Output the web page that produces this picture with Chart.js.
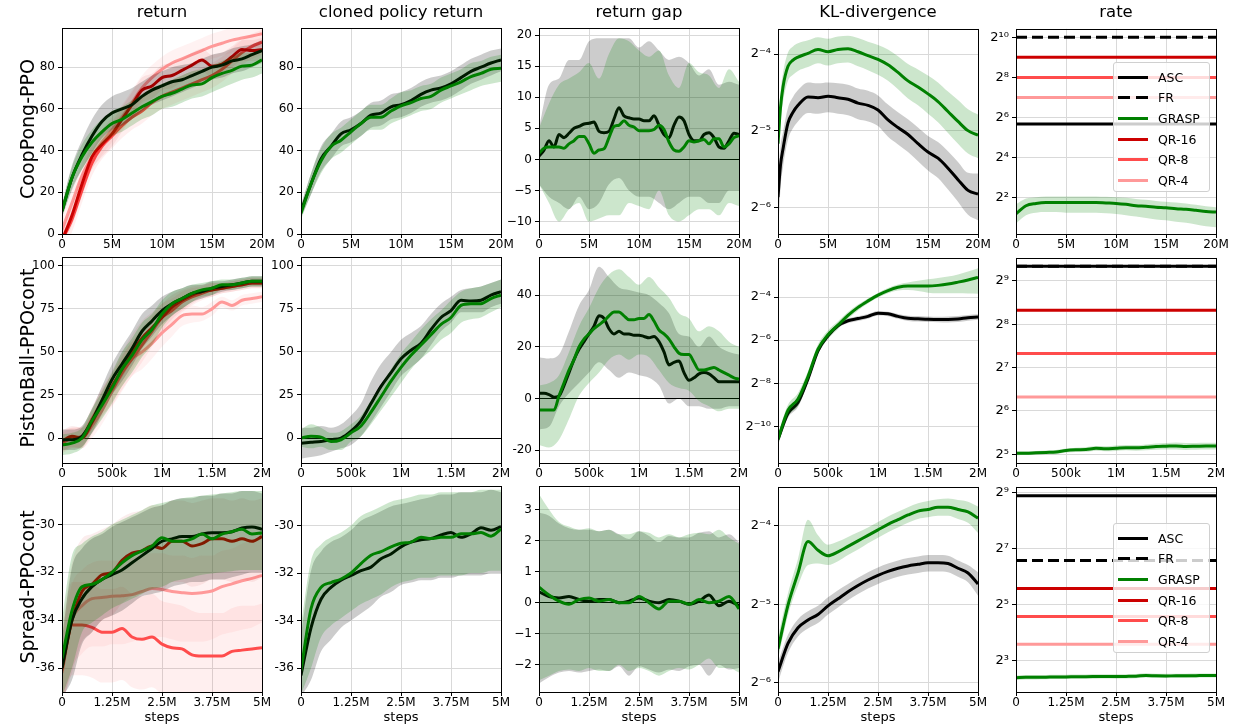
<!DOCTYPE html>
<html>
<head>
<meta charset="utf-8">
<script src="https://cdn.jsdelivr.net/npm/chart.js@4.4.0/dist/chart.umd.min.js"></script>
<style>
body { margin: 0; background: #fff; font-family: 'DejaVu Sans', sans-serif; }
#page { position: relative; width: 1239px; height: 728px; overflow: hidden; }
canvas { position: absolute; }
.title { position: absolute; top: 2px; font-size: 16.5px; transform: translateX(-50%); white-space: nowrap; }
.rowlab { position: absolute; font-size: 19px; transform: translate(-50%, -50%) rotate(-90deg); white-space: nowrap; }
.xlab { position: absolute; top: 709px; font-size: 13px; transform: translateX(-50%); }
.legend { position: absolute; width: 97px; background: rgba(255,255,255,0.8); border: 1px solid #d0d0d0; border-radius: 3px; box-sizing: border-box; padding: 4px 0 0 4px; font-size: 12.5px; }
.legend div { height: 20.6px; display: flex; align-items: center; }
.legend .sw { width: 30px; height: 3px; margin-right: 10px; }
</style>
</head>
<body>
<div id="page"></div>
<script>
// x positions (steps)
const stepsA = [0, 1e6, 2e6, 3e6, 4e6, 5e6, 6e6, 7e6, 8e6, 9e6, 10e6, 11e6, 12e6, 13e6, 14e6, 15e6, 16e6, 17e6, 18e6, 19e6, 20e6];
const stepsAhalf = [0, 0.5e6, 1e6, 1.5e6, 2e6, 2.5e6, 3e6, 3.5e6, 4e6, 4.5e6, 5e6, 5.5e6, 6e6, 6.5e6, 7e6, 7.5e6, 8e6, 8.5e6, 9e6, 9.5e6, 10e6,
  10.5e6, 11e6, 11.5e6, 12e6, 12.5e6, 13e6, 13.5e6, 14e6, 14.5e6, 15e6, 15.5e6, 16e6, 16.5e6, 17e6, 17.5e6, 18e6, 18.5e6, 19e6, 19.5e6, 20e6];
const stepsAkl = [0, 0.25e6, 0.5e6, 1e6, 1.5e6, 2e6, 3e6, 4e6, 5e6, 6e6, 7e6, 8e6, 9e6, 10e6, 11e6, 12e6, 13e6, 14e6, 15e6, 16e6, 17e6, 18e6, 19e6, 20e6];
const stepsB = [0, 1e5, 2e5, 3e5, 4e5, 5e5, 6e5, 7e5, 8e5, 9e5, 1e6, 1.1e6, 1.2e6, 1.3e6, 1.4e6, 1.5e6, 1.6e6, 1.7e6, 1.8e6, 1.9e6, 2e6];
const stepsBhalf = [0, 5e4, 1e5, 1.5e5, 2e5, 2.5e5, 3e5, 3.5e5, 4e5, 4.5e5, 5e5, 5.5e5, 6e5, 6.5e5, 7e5, 7.5e5, 8e5, 8.5e5, 9e5, 9.5e5, 1e6,
  1.05e6, 1.1e6, 1.15e6, 1.2e6, 1.25e6, 1.3e6, 1.35e6, 1.4e6, 1.45e6, 1.5e6, 1.55e6, 1.6e6, 1.65e6, 1.7e6, 1.75e6, 1.8e6, 1.85e6, 1.9e6, 1.95e6, 2e6];
const stepsC = [0, 2.5e5, 5e5, 7.5e5, 1e6, 1.25e6, 1.5e6, 1.75e6, 2e6, 2.25e6, 2.5e6, 2.75e6, 3e6, 3.25e6, 3.5e6, 3.75e6, 4e6, 4.25e6, 4.5e6, 4.75e6, 5e6];
const spanA = [0, 20e6], spanB = [0, 2e6], spanC = [0, 5e6];

// tick labels
const xTicksA = [0, 5e6, 10e6, 15e6, 20e6], xLabelsA = ['0', '5M', '10M', '15M', '20M'];
const xTicksB = [0, 5e5, 1e6, 1.5e6, 2e6], xLabelsB = ['0', '500k', '1M', '1.5M', '2M'];
const xTicksC = [0, 1.25e6, 2.5e6, 3.75e6, 5e6], xLabelsC = ['0', '1.25M', '2.5M', '3.75M', '5M'];

// ---- CoopPong-PPO ----
const coopRetAsc   = [11, 27, 38, 47, 54, 58, 60, 62, 66, 69, 71, 73, 74, 76, 78, 80, 81, 83, 84, 86, 88];
const coopRetAscLo = [8, 21, 31, 39, 46, 50, 52, 55, 59, 62, 64, 66, 68, 70, 72, 74, 75, 77, 78, 80, 82];
const coopRetAscHi = [14, 33, 45, 55, 62, 66, 68, 70, 73, 76, 78, 80, 81, 82, 84, 86, 87, 89, 90, 91, 93];
const coopRetGrasp   = [11, 27, 37, 44, 49, 53, 55, 58, 61, 63.5, 66, 67.5, 69.5, 71.5, 72, 75, 77, 78.5, 80.5, 81, 83.5];
const coopRetGraspLo = [8, 22, 31, 38, 43, 47, 49, 52, 55, 57, 60, 61, 63, 65, 66, 68, 70, 72, 74, 75, 77];
const coopRetGraspHi = [14, 32, 43, 50, 55, 59, 61, 64, 67, 70, 72, 74, 76, 78, 79, 81, 83, 85, 87, 87, 89];
const coopRetQr16   = [-3, 9, 24, 37, 43, 48, 55, 62, 69, 71, 75, 76, 78.5, 81, 83.5, 80.5, 81.5, 85, 88.5, 88, 88.5];
const coopRetQr16Lo = [-6, 4, 18, 31, 37, 42, 49, 56, 63, 65, 69, 70, 73, 75, 78, 75, 76, 80, 83, 83, 83];
const coopRetQr16Hi = [0, 14, 30, 43, 49, 54, 61, 68, 75, 77, 81, 82, 84, 87, 89, 86, 87, 90, 93, 93, 94];
const coopRetQr8   = [-3, 7, 21, 34, 42, 47, 52, 56, 59, 63, 66, 68, 70, 72, 74, 76, 79, 83, 87, 90, 92];
const coopRetQr8Lo = [-9, 1, 15, 28, 36, 41, 46, 50, 53, 57, 60, 62, 64, 66, 68, 70, 73, 77, 81, 84, 86];
const coopRetQr8Hi = [3, 13, 27, 40, 48, 53, 58, 62, 65, 69, 72, 74, 76, 78, 80, 82, 85, 89, 93, 96, 98];
const coopRetQr4   = [2, 15, 28, 37, 44, 50, 56, 63, 70, 75, 79, 82, 84, 86, 88, 90, 91.5, 93, 94, 95, 96];
const coopRetQr4Lo = [-4, 9, 22, 31, 38, 44, 50, 57, 64, 69, 73, 76, 78, 80, 82, 84, 85.5, 87, 88, 89, 90];
const coopRetQr4Hi = [8, 21, 34, 43, 50, 56, 62, 69, 76, 81, 85, 88, 90, 92, 94, 96, 97.5, 99, 100, 101, 102];

const coopClonedAsc   = [11, 24, 36, 42, 48, 50, 53, 57, 58, 61, 62, 64, 67, 69, 70, 72, 75, 78, 80, 82, 83.5];
const coopClonedAscLo = [8, 19, 30, 36, 42, 44, 47, 51, 52, 55, 56, 58, 61, 63, 64, 66, 69, 72, 74, 76, 78];
const coopClonedAscHi = [14, 29, 42, 48, 54, 56, 59, 63, 64, 67, 68, 70, 73, 75, 76, 78, 81, 84, 86, 88, 89];
const coopClonedGrasp   = [10, 24, 35, 42, 45, 49, 53, 56, 56, 59, 61.5, 63, 65, 66, 69, 71, 73, 75.5, 77, 79, 79.5];
const coopClonedGraspLo = [7, 19, 29, 36, 39, 43, 47, 50, 50, 53, 55, 57, 59, 60, 63, 65, 67, 69, 71, 72, 73];
const coopClonedGraspHi = [13, 29, 41, 48, 51, 55, 59, 62, 62, 65, 68, 69, 71, 72, 75, 77, 79, 82, 83, 85, 86];

const coopGapAsc = [0.5, 1.5, 3, 2, 4, 3.5, 4.2, 5, 5.3, 5.7, 5.8, 6, 4.5, 4.3, 4.5, 6.5, 8.3, 7, 6.7, 6.5, 6.5,
  6.2, 6.2, 7, 5.5, 4, 3.5, 5.5, 6.8, 6.2, 4, 3, 3, 4, 4.3, 3.5, 2, 1.8, 3, 4.2, 4];
const coopGapGrasp = [1, 1.8, 2, 2, 2, 1.8, 2.5, 3, 3.7, 3.7, 2.5, 1, 1.5, 1.7, 3.5, 5.3, 5.5, 6.2, 5.5, 5.2, 4.6,
  4.6, 4.6, 4.8, 5.5, 4.8, 2.8, 1.5, 1.3, 2, 3, 2.8, 3, 3.2, 2.5, 3.3, 3.3, 2, 2.5, 3.5, 3.8];
const coopGapAscHi = [5, 12, 13, 16, 16, 19, 19.5, 19.5, 19.5, 19.5, 18, 19, 17.5, 16, 16.5, 15.5, 13.5, 14.5, 12, 12.5, 12];
const coopGapAscLo = [-4, -6, -7, -8, -6, -8, -7, -4, -3, -5, -6, -6, -7, -8, -7, -6, -6, -7, -7, -5, -5];
const coopGapGraspHi = [5, 9, 12, 13, 14, 15.5, 13, 17, 19.5, 19, 17.5, 16.5, 17.5, 13.5, 11.5, 15.5, 14, 13.5, 11.5, 14.5, 12.5];
const coopGapGraspLo = [-4, -7, -10, -8, -7, -10, -9.5, -9, -9, -7, -7.5, -8, -5, -9, -10, -9, -8, -8, -9, -7, -7.5];

// KL values as log2 exponents
const coopKlGrasp   = [-5.17, -4.7, -4.43, -4.16, -4.08, -4.04, -3.99, -3.94, -3.97, -3.94, -3.93, -3.97, -4.02, -4.07, -4.14, -4.24, -4.35, -4.43, -4.52, -4.62, -4.75, -4.88, -5.0, -5.06];
const coopKlGraspHi = [-4.98, -4.5, -4.25, -3.98, -3.9, -3.86, -3.82, -3.78, -3.8, -3.77, -3.76, -3.79, -3.84, -3.88, -3.94, -4.03, -4.13, -4.2, -4.28, -4.37, -4.49, -4.6, -4.72, -4.79];
const coopKlGraspLo = [-5.4, -4.9, -4.63, -4.35, -4.27, -4.22, -4.17, -4.12, -4.15, -4.12, -4.11, -4.16, -4.21, -4.27, -4.35, -4.46, -4.58, -4.67, -4.78, -4.89, -5.03, -5.17, -5.3, -5.36];
const coopKlAsc   = [-5.87, -5.45, -5.24, -4.9, -4.76, -4.67, -4.56, -4.57, -4.55, -4.57, -4.59, -4.64, -4.67, -4.73, -4.86, -4.96, -5.05, -5.17, -5.28, -5.36, -5.49, -5.64, -5.78, -5.83];
const coopKlAscHi = [-5.6, -5.2, -5.02, -4.7, -4.56, -4.47, -4.37, -4.38, -4.37, -4.38, -4.4, -4.45, -4.48, -4.54, -4.66, -4.76, -4.85, -4.96, -5.07, -5.15, -5.27, -5.41, -5.55, -5.56];
const coopKlAscLo = [-6.4, -5.75, -5.48, -5.12, -4.97, -4.88, -4.77, -4.78, -4.76, -4.78, -4.8, -4.85, -4.88, -4.94, -5.08, -5.18, -5.28, -5.4, -5.52, -5.62, -5.77, -5.93, -6.1, -6.17];

const coopRateGrasp   = [2.3, 3.05, 3.3, 3.4, 3.4, 3.4, 3.4, 3.4, 3.4, 3.35, 3.3, 3.2, 3.05, 3.0, 2.9, 2.85, 2.75, 2.7, 2.6, 2.5, 2.45];
const coopRateGraspHi = [3.2, 3.9, 4.1, 4.2, 4.2, 4.2, 4.2, 4.2, 4.2, 4.15, 4.1, 4.0, 3.85, 3.75, 3.6, 3.5, 3.4, 3.3, 3.15, 3.0, 2.9];
const coopRateGraspLo = [1.65, 2.2, 2.4, 2.45, 2.45, 2.4, 2.4, 2.4, 2.4, 2.35, 2.3, 2.2, 2.1, 2.0, 1.9, 1.85, 1.75, 1.7, 1.6, 1.5, 1.45];
// ASC, FR, QR-16, QR-8, QR-4
const coopRateLevels = [51.3, 1024, 512, 256, 128];

// ---- PistonBall-PPOcont ----
const pistonRetGrasp   = [-4, -3, 0, 10, 19, 29, 40, 48, 57, 63, 72, 78, 81, 84, 86, 87, 89, 89, 90, 91, 91];
const pistonRetGraspLo = [-10, -9, -6, 3, 11, 20, 30, 38, 47, 54, 64, 71, 75, 79, 82, 83, 86, 86, 87, 88, 88];
const pistonRetGraspHi = [2, 3, 6, 17, 27, 38, 50, 58, 67, 72, 80, 85, 87, 89, 90, 91, 92, 92, 93, 94, 94];
const pistonRetAsc   = [-1, -1, 1, 10, 22, 34, 43, 52, 62, 68, 74, 78, 81, 84, 85, 87, 88, 89, 90, 91, 91];
const pistonRetAscLo = [-7, -7, -5, 3, 14, 25, 33, 42, 52, 59, 66, 71, 75, 79, 81, 83, 85, 86, 87, 88, 88];
const pistonRetAscHi = [5, 5, 7, 17, 30, 43, 53, 62, 72, 77, 82, 85, 87, 89, 89, 91, 91, 92, 93, 94, 94];
const pistonRetQr16   = [-2, 1, 0, 9, 20, 30, 40, 50, 58, 64, 70, 76, 80, 83, 85, 86, 87, 88, 89, 90, 90];
const pistonRetQr16Lo = [-8, -5, -6, 2, 12, 21, 30, 40, 48, 55, 62, 69, 74, 78, 81, 82, 84, 85, 86, 87, 87];
const pistonRetQr16Hi = [4, 7, 6, 16, 28, 39, 50, 60, 68, 73, 78, 83, 86, 88, 89, 90, 90, 91, 92, 93, 93];
const pistonRetQr8   = [-3, 0, 1, 11, 21, 28, 38, 46, 54, 62, 70, 74, 79, 82, 84, 86, 87, 88, 89, 90, 90];
const pistonRetQr8Lo = [-9, -6, -5, 4, 13, 19, 28, 36, 44, 53, 62, 67, 73, 77, 80, 82, 84, 85, 86, 87, 87];
const pistonRetQr8Hi = [3, 6, 7, 18, 29, 37, 48, 56, 64, 71, 78, 81, 85, 87, 88, 90, 90, 91, 92, 93, 93];
const pistonRetQr4   = [-1, 0, 0, 7, 16, 27, 37, 46, 50, 55, 61, 66, 71, 72, 72, 75, 79, 77, 80, 81, 82];
const pistonRetQr4Lo = [-7, -6, -6, 0, 8, 18, 27, 36, 40, 46, 53, 59, 65, 67, 68, 71, 76, 74, 77, 78, 79];
const pistonRetQr4Hi = [5, 6, 6, 14, 24, 36, 47, 56, 60, 64, 69, 73, 77, 77, 76, 79, 82, 80, 83, 84, 85];

const pistonClonedAsc   = [-3, -2.5, -2, -1, 0, 4, 10, 20, 30, 38, 46, 51, 55, 63, 70, 74, 80, 79.5, 80, 83, 85];
const pistonClonedAscHi = [6, 6, 7, 6, 8, 13, 20, 33, 43, 50, 57, 61, 65, 72, 78, 82, 86, 87, 88, 90, 92];
const pistonClonedAscLo = [-12, -11, -10, -8, -6, -4, 1, 9, 18, 27, 36, 41, 46, 54, 62, 67, 73, 73, 73, 76, 78];
const pistonClonedGrasp   = [0, 1, 0.5, -2, -1, 3, 7, 15, 24, 33, 41, 48, 54, 60, 66, 70, 77, 78, 78, 81, 83];
const pistonClonedGraspHi = [5, 8, 6, 3, 4, 8, 13, 22, 31, 40, 49, 56, 63, 69, 74, 80, 85, 87, 88, 90, 92];
const pistonClonedGraspLo = [-5, -6, -5, -7, -7, -2, 1, 8, 16, 24, 32, 40, 46, 51, 57, 61, 67, 69, 70, 73, 76];

const pistonGapAsc = [2, 2, 1.5, 0.5, 1, 5, 10, 15, 19, 22, 25, 28, 32, 31, 27, 25, 26, 25, 25, 24.5, 24.5,
  24, 23.5, 24, 22, 18, 13, 14, 14.5, 10, 7, 8, 9.5, 10, 9.5, 8, 6.5, 6.5, 6.5, 6.5, 6.5];
const pistonGapGrasp = [-4.5, -4.5, -4.5, -4.5, 1, 6, 11, 15, 20, 23, 25, 27, 28.5, 30, 32, 33.5, 33.5, 32, 30.5, 30.5, 31,
  31, 32.5, 30, 26.5, 25, 23, 20, 17.5, 17, 17, 14, 11, 11, 11.5, 12, 11, 10, 9, 8, 7.5];
const pistonGapAscHi = [16, 15.5, 17, 26, 36, 42, 51, 47, 43, 42, 41, 40, 37, 33, 25, 24, 20, 24, 20, 18, 17];
const pistonGapAscLo = [-12, -11, -3, 2, 6, 10, 14, 11, 8, 10, 9, 8, 5, -2, 0, -3, -3, -4, -4, -3, -3];
const pistonGapGraspHi = [5, 6, 9, 18, 28, 35, 43, 48, 50, 47, 44, 47, 43, 39, 33, 31, 26, 28, 26, 22, 20];
const pistonGapGraspLo = [-18, -19, -16, -8, 1, 6, 10, 15, 17, 15, 17, 16, 11, 6, 4, 3, -1, -3, -5, -4, -4];

const pistonKlGrasp   = [-10.6, -9.25, -8.73, -7.69, -6.42, -5.75, -5.3, -4.85, -4.48, -4.18, -3.91, -3.7, -3.55, -3.49, -3.49, -3.49, -3.46, -3.4, -3.31, -3.21, -3.09];
const pistonKlGraspHi = [-10.35, -9.0, -8.45, -7.45, -6.2, -5.55, -5.12, -4.7, -4.35, -4.07, -3.81, -3.58, -3.42, -3.33, -3.25, -3.18, -3.12, -3.05, -2.95, -2.82, -2.66];
const pistonKlGraspLo = [-10.9, -9.55, -9.05, -7.95, -6.65, -5.95, -5.48, -5.0, -4.62, -4.3, -4.02, -3.82, -3.7, -3.68, -3.72, -3.8, -3.83, -3.83, -3.83, -3.84, -3.85];
const pistonKlAsc   = [-10.6, -9.4, -8.9, -7.8, -6.5, -5.8, -5.33, -5.1, -5.0, -4.9, -4.75, -4.78, -4.9, -4.99, -5.01, -5.03, -5.04, -5.04, -5.02, -4.96, -4.93];
const pistonKlAscHi = [-10.4, -9.2, -8.7, -7.65, -6.38, -5.68, -5.22, -4.99, -4.89, -4.79, -4.65, -4.68, -4.79, -4.87, -4.88, -4.9, -4.91, -4.9, -4.88, -4.83, -4.8];
const pistonKlAscLo = [-10.85, -9.6, -9.1, -7.95, -6.62, -5.92, -5.44, -5.21, -5.11, -5.01, -4.86, -4.89, -5.01, -5.11, -5.14, -5.16, -5.17, -5.18, -5.16, -5.1, -5.06];

const pistonRateGrasp   = [32.5, 32.6, 32.8, 33, 33.2, 34, 34.4, 34.6, 35.2, 35, 35.3, 35.6, 35.5, 35.8, 36.2, 36.4, 36.6, 36.3, 36.4, 36.5, 36.5];
const pistonRateGraspHi = [33.5, 33.6, 33.8, 34, 34.3, 35.1, 35.6, 35.9, 36.5, 36.4, 36.8, 37.1, 37.1, 37.5, 38, 38.3, 38.6, 38.3, 38.4, 38.5, 38.5];
const pistonRateGraspLo = [31.5, 31.6, 31.8, 32, 32.1, 32.9, 33.2, 33.3, 33.9, 33.6, 33.8, 34.1, 33.9, 34.1, 34.4, 34.5, 34.6, 34.3, 34.4, 34.5, 34.5];
const pistonRateLevels = [645, 645, 320, 160, 80];

// ---- Spread-PPOcont ----
const spreadRetGrasp   = [-35.6, -33.6, -32.6, -32.5, -32.3, -32.0, -31.6, -31.3, -31.1, -30.9, -30.55, -30.7, -30.7, -30.6, -30.4, -30.6, -30.4, -30.3, -30.2, -30.4, -30.35];
const spreadRetGraspHi = [-34.0, -31.3, -30.8, -30.5, -30.3, -30.0, -29.8, -29.6, -29.4, -29.2, -29.1, -29.0, -28.9, -28.85, -28.8, -28.75, -28.7, -28.65, -28.6, -28.6, -28.6];
const spreadRetGraspLo = [-37.2, -36.0, -34.5, -34.1, -33.8, -33.5, -33.3, -33.1, -32.9, -32.7, -32.6, -32.4, -32.3, -32.2, -32.1, -32.05, -32.0, -31.95, -31.9, -31.9, -31.9];
const spreadRetAsc   = [-36.0, -34.0, -33.1, -32.6, -32.3, -32.1, -31.9, -31.6, -31.3, -31.0, -30.7, -30.6, -30.5, -30.5, -30.4, -30.35, -30.35, -30.3, -30.15, -30.1, -30.2];
const spreadRetAscHi = [-34.8, -31.8, -31.0, -30.6, -30.4, -30.1, -29.9, -29.7, -29.5, -29.3, -29.2, -29.0, -28.9, -28.9, -28.8, -28.8, -28.7, -28.7, -28.6, -28.6, -28.7];
const spreadRetAscLo = [-37.2, -36.5, -35.0, -34.5, -34.0, -33.8, -33.6, -33.3, -33.0, -32.9, -32.8, -32.6, -32.5, -32.4, -32.4, -32.3, -32.3, -32.2, -32.1, -32.0, -32.0];
const spreadRetQr16   = [-36.0, -34.0, -32.8, -32.5, -32.1, -32.0, -31.5, -31.2, -31.1, -30.9, -31.0, -30.7, -30.7, -30.9, -30.8, -30.6, -30.6, -30.7, -30.6, -30.7, -30.5];
const spreadRetQr16Hi = [-34.3, -31.6, -30.6, -30.4, -30.2, -30.0, -29.7, -29.5, -29.4, -29.2, -29.2, -29.0, -29.0, -29.1, -29.0, -28.9, -28.9, -29.0, -28.9, -29.0, -28.9];
const spreadRetQr16Lo = [-37.5, -36.2, -34.9, -34.5, -34.0, -33.8, -33.3, -33.0, -32.8, -32.6, -32.7, -32.4, -32.4, -32.6, -32.5, -32.3, -32.3, -32.4, -32.3, -32.4, -32.2];
const spreadRetQr8   = [-36.1, -34.2, -34.2, -34.3, -34.5, -34.5, -34.35, -34.7, -34.8, -34.7, -35.0, -35.15, -35.2, -35.45, -35.5, -35.5, -35.5, -35.3, -35.25, -35.2, -35.15];
const spreadRetQr8Hi = [-34.6, -32.4, -32.4, -32.5, -32.7, -32.7, -32.6, -32.9, -33.0, -32.9, -33.2, -33.3, -33.4, -33.6, -33.7, -33.7, -33.7, -33.5, -33.4, -33.4, -33.3];
const spreadRetQr8Lo = [-37.6, -36.3, -36.3, -36.4, -36.6, -36.6, -36.5, -36.8, -36.9, -36.8, -37.1, -37.3, -37.3, -37.5, -37.6, -37.6, -37.6, -37.4, -37.3, -37.3, -37.2];
const spreadRetQr4   = [-36.2, -34.0, -33.4, -33.1, -33.05, -33.0, -32.98, -32.93, -32.8, -32.68, -32.72, -32.8, -32.85, -32.88, -32.85, -32.78, -32.6, -32.48, -32.35, -32.25, -32.13];
const spreadRetQr4Hi = [-34.7, -32.5, -31.9, -31.6, -31.5, -31.5, -31.5, -31.4, -31.3, -31.2, -31.2, -31.3, -31.3, -31.4, -31.3, -31.3, -31.1, -31.0, -30.8, -30.7, -30.6];
const spreadRetQr4Lo = [-37.7, -36.0, -35.4, -35.1, -35.1, -35.0, -35.0, -34.9, -34.8, -34.7, -34.7, -34.8, -34.9, -34.9, -34.9, -34.8, -34.6, -34.5, -34.4, -34.3, -34.1];

const spreadClonedAsc   = [-36.3, -34.3, -33.1, -32.6, -32.3, -32.1, -31.9, -31.75, -31.4, -31.2, -30.9, -30.7, -30.6, -30.55, -30.4, -30.3, -30.5, -30.35, -30.1, -30.2, -30.05];
const spreadClonedAscHi = [-34.6, -31.9, -31.1, -30.7, -30.5, -30.2, -29.8, -29.6, -29.4, -29.2, -29.1, -29.0, -28.9, -28.8, -28.7, -28.7, -28.6, -28.6, -28.6, -28.5, -28.6];
const spreadClonedAscLo = [-37.2, -36.5, -35.3, -34.8, -34.3, -34.0, -33.7, -33.4, -33.0, -32.8, -32.5, -32.4, -32.3, -32.3, -32.2, -32.2, -32.1, -32.1, -32.1, -32.0, -32.0];
const spreadClonedGrasp   = [-36.1, -33.5, -32.6, -32.4, -32.25, -32.0, -31.6, -31.25, -31.1, -30.9, -30.75, -30.7, -30.5, -30.55, -30.5, -30.5, -30.35, -30.35, -30.3, -30.45, -30.15];
const spreadClonedGraspHi = [-34.2, -31.5, -30.8, -30.5, -30.3, -30.0, -29.6, -29.4, -29.2, -29.0, -28.9, -28.8, -28.7, -28.7, -28.6, -28.6, -28.6, -28.6, -28.5, -28.5, -28.5];
const spreadClonedGraspLo = [-37.1, -36.0, -34.7, -34.2, -33.9, -33.6, -33.3, -33.1, -32.9, -32.6, -32.4, -32.3, -32.2, -32.2, -32.1, -32.1, -32.1, -32.0, -32.0, -31.9, -31.9];

const spreadGapAsc   = [0.35, 0.2, 0.15, 0.2, 0.1, 0.05, 0.1, 0.1, 0.0, 0.05, 0.15, 0.05, 0.0, 0.1, 0.05, -0.05, 0.05, 0.25, -0.1, 0.05, -0.1];
const spreadGapAscHi = [2.9, 2.8, 2.55, 2.4, 2.35, 2.35, 2.3, 2.35, 2.2, 2.05, 2.3, 2.15, 1.95, 2.15, 2.1, 2.1, 2.25, 2.3, 2.1, 2.2, 1.95];
const spreadGapAscLo = [-2.6, -2.4, -2.25, -2.2, -2.25, -2.2, -2.15, -2.2, -2.05, -2.35, -2.05, -2.15, -2.25, -2.15, -2.2, -2.05, -2.0, -2.35, -2.0, -2.15, -2.1];
const spreadGapGrasp   = [0.5, 0.25, 0.05, -0.05, 0.1, 0.15, 0.05, 0.1, 0.0, 0.0, 0.2, 0.0, -0.2, 0.05, 0.05, -0.05, 0.1, 0.0, 0.05, 0.2, -0.2];
const spreadGapGraspHi = [3.5, 3.0, 2.6, 2.45, 2.35, 2.4, 2.3, 2.35, 2.2, 2.2, 2.3, 2.25, 2.1, 2.2, 2.1, 2.2, 2.25, 2.2, 2.35, 2.1, 1.9];
const spreadGapGraspLo = [-2.5, -2.35, -2.2, -2.15, -2.2, -2.1, -2.2, -2.2, -2.0, -2.2, -2.1, -2.2, -2.35, -2.2, -2.1, -2.15, -2.0, -1.8, -2.1, -2.1, -2.25];

const spreadKlGrasp   = [-5.57, -5.01, -4.6, -4.2, -4.31, -4.38, -4.33, -4.26, -4.19, -4.12, -4.05, -3.98, -3.92, -3.86, -3.81, -3.79, -3.76, -3.76, -3.79, -3.82, -3.9];
const spreadKlGraspHi = [-5.42, -4.86, -4.42, -3.92, -4.12, -4.24, -4.2, -4.14, -4.08, -4.02, -3.95, -3.88, -3.82, -3.76, -3.71, -3.68, -3.66, -3.65, -3.67, -3.69, -3.75];
const spreadKlGraspLo = [-5.7, -5.14, -4.76, -4.5, -4.48, -4.5, -4.45, -4.37, -4.3, -4.22, -4.15, -4.08, -4.02, -3.96, -3.91, -3.89, -3.87, -3.87, -3.91, -3.96, -4.09];
const spreadKlAsc   = [-5.86, -5.5, -5.3, -5.2, -5.13, -5.02, -4.93, -4.84, -4.76, -4.69, -4.63, -4.58, -4.54, -4.51, -4.49, -4.47, -4.47, -4.48, -4.54, -4.6, -4.74];
const spreadKlAscHi = [-5.74, -5.39, -5.19, -5.09, -5.02, -4.91, -4.82, -4.74, -4.66, -4.59, -4.53, -4.48, -4.44, -4.41, -4.39, -4.37, -4.37, -4.38, -4.44, -4.5, -4.59];
const spreadKlAscLo = [-6.0, -5.62, -5.41, -5.31, -5.24, -5.13, -5.04, -4.95, -4.87, -4.8, -4.74, -4.69, -4.65, -4.62, -4.6, -4.58, -4.58, -4.59, -4.65, -4.72, -4.89];

const spreadRateGrasp   = [5.25, 5.3, 5.3, 5.32, 5.35, 5.35, 5.38, 5.38, 5.4, 5.42, 5.4, 5.42, 5.45, 5.55, 5.5, 5.48, 5.5, 5.5, 5.52, 5.54, 5.54];
const spreadRateGraspHi = [5.55, 5.6, 5.6, 5.62, 5.65, 5.65, 5.68, 5.68, 5.7, 5.72, 5.7, 5.72, 5.75, 5.85, 5.8, 5.78, 5.8, 5.8, 5.82, 5.84, 5.84];
const spreadRateGraspLo = [4.97, 5.02, 5.02, 5.04, 5.07, 5.07, 5.1, 5.1, 5.12, 5.14, 5.12, 5.14, 5.17, 5.27, 5.22, 5.2, 5.22, 5.22, 5.24, 5.26, 5.26];
const spreadRateLevels = [478, 96, 48, 24, 12];

const colors = { ASC: '#000000', FR: '#000000', GRASP: '#008000', QR16: '#cc0000', QR8: '#ff4c4c', QR4: '#ff9999' };
const bands = { ASC: 'rgba(0,0,0,0.2)', GRASP: 'rgba(0,128,0,0.2)', QR16: 'rgba(204,0,0,0.07)', QR8: 'rgba(255,76,76,0.09)', QR4: 'rgba(255,153,153,0.13)' };
const legendNames = ['ASC', 'FR', 'GRASP', 'QR-16', 'QR-8', 'QR-4'];
const legendKeys = ['ASC', 'FR', 'GRASP', 'QR16', 'QR8', 'QR4'];

// layout
const colLeft = [62, 301, 539, 778, 1016];
const rowTop = [23, 252, 481];
const plotW = 200, plotH = 211;
const page = document.getElementById('page');
const tickFont = { family: 'DejaVu Sans', size: 12 };
const gridColor = '#d9d9d9';

const supChars = '⁰¹²³⁴⁵⁶⁷⁸⁹';
const sup = n => String(n).split('').map(c => c === '-' ? '⁻' : supChars[+c]).join('');

function ser(key, x, y, lo, hi, exp) { return { x, y, lo, hi, color: colors[key], band: bands[key], exp }; }
function hline(key, span, v, dash) { return { x: span, y: [v, v], color: colors[key], dash }; }

const framePlugin = {
  id: 'frame',
  afterDatasetsDraw(chart) {
    const a = chart.chartArea, ctx = chart.ctx;
    ctx.save();
    ctx.strokeStyle = '#000';
    ctx.lineWidth = 1;
    ctx.strokeRect(Math.round(a.left) + 0.5, Math.round(a.top) + 0.5, Math.round(a.right - a.left), Math.round(a.bottom - a.top));
    ctx.restore();
  }
};

function panel(row, col, cfg) {
  const cv = document.createElement('canvas');
  cv.width = 50 + plotW + 14;
  cv.height = 5 + plotH + 25;
  cv.style.left = (colLeft[col] - 50) + 'px';
  cv.style.top = (rowTop[row] - 5) + 'px';
  page.appendChild(cv);

  const datasets = [];
  cfg.series.forEach(s => {
    const pts = ys => ys.map((v, i) => ({ x: s.x[i], y: s.exp ? Math.pow(2, v) : v }));
    datasets.push({ data: pts(s.y), borderColor: s.color, borderWidth: 3, borderDash: s.dash || [],
      pointRadius: 0, fill: false, cubicInterpolationMode: 'monotone' });
    if (s.hi) {
      datasets.push({ data: pts(s.hi), borderColor: 'rgba(0,0,0,0)', borderWidth: 0, pointRadius: 0,
        backgroundColor: s.band, fill: '+1', cubicInterpolationMode: 'monotone' });
      datasets.push({ data: pts(s.lo), borderColor: 'rgba(0,0,0,0)', borderWidth: 0, pointRadius: 0,
        fill: false, cubicInterpolationMode: 'monotone' });
    }
  });
  // first pushed is drawn at the bottom
  datasets.forEach((d, k) => { d.order = 1000 - k; });

  const yTickVals = cfg.log ? cfg.yTicks.map(e => Math.pow(2, e)) : cfg.yTicks;
  const yLabels = cfg.log ? cfg.yTicks.map(e => '2' + sup(e)) : cfg.yLabels;

  new Chart(cv, {
    type: 'line',
    data: { datasets },
    options: {
      responsive: false,
      animation: false,
      events: [],
      layout: { padding: { top: 5, right: 14, left: 0, bottom: 0 }, autoPadding: false },
      plugins: { legend: { display: false }, tooltip: { enabled: false } },
      scales: {
        x: {
          type: 'linear', min: 0, max: cfg.xAxis.max,
          afterBuildTicks: a => { a.ticks = cfg.xAxis.ticks.map(v => ({ value: v })); },
          ticks: { callback: (v, i) => cfg.xAxis.labels[i], font: tickFont, color: '#000', maxRotation: 0, autoSkip: false, padding: 0 },
          grid: { color: gridColor, tickColor: '#000', tickLength: 4 },
          border: { display: false },
          afterFit: a => { a.height = 25; }
        },
        y: {
          type: cfg.log ? 'logarithmic' : 'linear',
          min: cfg.log ? Math.pow(2, cfg.yMin) : cfg.yMin,
          max: cfg.log ? Math.pow(2, cfg.yMax) : cfg.yMax,
          afterBuildTicks: a => { a.ticks = yTickVals.map(v => ({ value: v })); },
          ticks: { callback: (v, i) => yLabels[i], font: cfg.log ? { family: 'DejaVu Sans', size: 13 } : tickFont, color: '#000', autoSkip: false, padding: 3 },
          grid: {
            color: c => (cfg.zero && c.tick && c.tick.value === 0) ? '#000' : gridColor,
            tickColor: '#000', tickLength: 4
          },
          border: { display: false },
          afterFit: a => { a.width = 50; }
        }
      }
    },
    plugins: [framePlugin]
  });
}

const axisA = { max: 20e6, ticks: xTicksA, labels: xLabelsA };
const axisB = { max: 2e6, ticks: xTicksB, labels: xLabelsB };
const axisC = { max: 5e6, ticks: xTicksC, labels: xLabelsC };

// row 1: CoopPong-PPO
panel(0, 0, { xAxis: axisA, yMin: 0, yMax: 98.7, yTicks: [0, 20, 40, 60, 80], yLabels: ['0', '20', '40', '60', '80'], series: [
  ser('QR4', stepsA, coopRetQr4, coopRetQr4Lo, coopRetQr4Hi),
  ser('QR8', stepsA, coopRetQr8, coopRetQr8Lo, coopRetQr8Hi),
  ser('QR16', stepsA, coopRetQr16, coopRetQr16Lo, coopRetQr16Hi),
  ser('ASC', stepsA, coopRetAsc, coopRetAscLo, coopRetAscHi),
  ser('GRASP', stepsA, coopRetGrasp, coopRetGraspLo, coopRetGraspHi)
] });
panel(0, 1, { xAxis: axisA, yMin: 0, yMax: 98.7, yTicks: [0, 20, 40, 60, 80], yLabels: ['0', '20', '40', '60', '80'], series: [
  ser('ASC', stepsA, coopClonedAsc, coopClonedAscLo, coopClonedAscHi),
  ser('GRASP', stepsA, coopClonedGrasp, coopClonedGraspLo, coopClonedGraspHi)
] });
panel(0, 2, { xAxis: axisA, yMin: -12, yMax: 21.1, zero: true, yTicks: [-10, -5, 0, 5, 10, 15, 20], yLabels: ['−10', '−5', '0', '5', '10', '15', '20'], series: [
  ser('ASC', stepsAhalf, coopGapAsc),
  { x: stepsA, y: coopGapAscHi, lo: coopGapAscLo, hi: coopGapAscHi, color: 'rgba(0,0,0,0)', band: bands.ASC },
  ser('GRASP', stepsAhalf, coopGapGrasp),
  { x: stepsA, y: coopGapGraspHi, lo: coopGapGraspLo, hi: coopGapGraspHi, color: 'rgba(0,0,0,0)', band: bands.GRASP }
] });
panel(0, 3, { xAxis: axisA, log: true, yMin: -6.35, yMax: -3.67, yTicks: [-6, -5, -4], series: [
  ser('ASC', stepsAkl, coopKlAsc, coopKlAscLo, coopKlAscHi, true),
  ser('GRASP', stepsAkl, coopKlGrasp, coopKlGraspLo, coopKlGraspHi, true)
] });
panel(0, 4, { xAxis: axisA, log: true, yMin: 0.2, yMax: 10.42, yTicks: [2, 4, 6, 8, 10], series: [
  hline('QR4', spanA, coopRateLevels[4]),
  hline('QR8', spanA, coopRateLevels[3]),
  hline('QR16', spanA, coopRateLevels[2]),
  hline('ASC', spanA, coopRateLevels[0]),
  hline('FR', spanA, coopRateLevels[1], [11, 5]),
  ser('GRASP', stepsA, coopRateGrasp, coopRateGraspLo, coopRateGraspHi)
] });

// row 2: PistonBall-PPOcont
panel(1, 0, { xAxis: axisB, yMin: -14.5, yMax: 105, zero: true, yTicks: [0, 25, 50, 75, 100], yLabels: ['0', '25', '50', '75', '100'], series: [
  ser('QR4', stepsB, pistonRetQr4, pistonRetQr4Lo, pistonRetQr4Hi),
  ser('QR8', stepsB, pistonRetQr8, pistonRetQr8Lo, pistonRetQr8Hi),
  ser('QR16', stepsB, pistonRetQr16, pistonRetQr16Lo, pistonRetQr16Hi),
  ser('ASC', stepsB, pistonRetAsc, pistonRetAscLo, pistonRetAscHi),
  ser('GRASP', stepsB, pistonRetGrasp, pistonRetGraspLo, pistonRetGraspHi)
] });
panel(1, 1, { xAxis: axisB, yMin: -14.5, yMax: 105, zero: true, yTicks: [0, 25, 50, 75, 100], yLabels: ['0', '25', '50', '75', '100'], series: [
  ser('ASC', stepsB, pistonClonedAsc, pistonClonedAscLo, pistonClonedAscHi),
  ser('GRASP', stepsB, pistonClonedGrasp, pistonClonedGraspLo, pistonClonedGraspHi)
] });
panel(1, 2, { xAxis: axisB, yMin: -25, yMax: 54.7, zero: true, yTicks: [-20, 0, 20, 40], yLabels: ['-20', '0', '20', '40'], series: [
  ser('ASC', stepsBhalf, pistonGapAsc),
  { x: stepsB, y: pistonGapAscHi, lo: pistonGapAscLo, hi: pistonGapAscHi, color: 'rgba(0,0,0,0)', band: bands.ASC },
  ser('GRASP', stepsBhalf, pistonGapGrasp),
  { x: stepsB, y: pistonGapGraspHi, lo: pistonGapGraspLo, hi: pistonGapGraspHi, color: 'rgba(0,0,0,0)', band: bands.GRASP }
] });
panel(1, 3, { xAxis: axisB, log: true, yMin: -11.62, yMax: -2.18, yTicks: [-10, -8, -6, -4], series: [
  ser('ASC', stepsB, pistonKlAsc, pistonKlAscLo, pistonKlAscHi, true),
  ser('GRASP', stepsB, pistonKlGrasp, pistonKlGraspLo, pistonKlGraspHi, true)
] });
panel(1, 4, { xAxis: axisB, log: true, yMin: 4.8, yMax: 9.53, yTicks: [5, 6, 7, 8, 9], series: [
  hline('QR4', spanB, pistonRateLevels[4]),
  hline('QR8', spanB, pistonRateLevels[3]),
  hline('QR16', spanB, pistonRateLevels[2]),
  hline('ASC', spanB, pistonRateLevels[0]),
  hline('FR', spanB, pistonRateLevels[1], [11, 5]),
  ser('GRASP', stepsB, pistonRateGrasp, pistonRateGraspLo, pistonRateGraspHi)
] });

// row 3: Spread-PPOcont
panel(2, 0, { xAxis: axisC, yMin: -37, yMax: -28.4, yTicks: [-36, -34, -32, -30], yLabels: ['-36', '-34', '-32', '-30'], series: [
  ser('QR4', stepsC, spreadRetQr4, spreadRetQr4Lo, spreadRetQr4Hi),
  ser('QR8', stepsC, spreadRetQr8, spreadRetQr8Lo, spreadRetQr8Hi),
  ser('QR16', stepsC, spreadRetQr16, spreadRetQr16Lo, spreadRetQr16Hi),
  ser('ASC', stepsC, spreadRetAsc, spreadRetAscLo, spreadRetAscHi),
  ser('GRASP', stepsC, spreadRetGrasp, spreadRetGraspLo, spreadRetGraspHi)
] });
panel(2, 1, { xAxis: axisC, yMin: -37, yMax: -28.35, yTicks: [-36, -34, -32, -30], yLabels: ['-36', '-34', '-32', '-30'], series: [
  ser('ASC', stepsC, spreadClonedAsc, spreadClonedAscLo, spreadClonedAscHi),
  ser('GRASP', stepsC, spreadClonedGrasp, spreadClonedGraspLo, spreadClonedGraspHi)
] });
panel(2, 2, { xAxis: axisC, yMin: -2.875, yMax: 3.75, zero: true, yTicks: [-2, -1, 0, 1, 2, 3], yLabels: ['−2', '−1', '0', '1', '2', '3'], series: [
  ser('ASC', stepsC, spreadGapAsc, spreadGapAscLo, spreadGapAscHi),
  ser('GRASP', stepsC, spreadGapGrasp, spreadGapGraspLo, spreadGapGraspHi)
] });
panel(2, 3, { xAxis: axisC, log: true, yMin: -6.12, yMax: -3.5, yTicks: [-6, -5, -4], series: [
  ser('ASC', stepsC, spreadKlAsc, spreadKlAscLo, spreadKlAscHi, true),
  ser('GRASP', stepsC, spreadKlGrasp, spreadKlGraspLo, spreadKlGraspHi, true)
] });
panel(2, 4, { xAxis: axisC, log: true, yMin: 1.88, yMax: 9.22, yTicks: [3, 5, 7, 9], series: [
  hline('QR4', spanC, spreadRateLevels[4]),
  hline('QR8', spanC, spreadRateLevels[3]),
  hline('QR16', spanC, spreadRateLevels[2]),
  hline('ASC', spanC, spreadRateLevels[0]),
  hline('FR', spanC, spreadRateLevels[1], [11, 5]),
  ser('GRASP', stepsC, spreadRateGrasp, spreadRateGraspLo, spreadRateGraspHi)
] });

// titles, row labels, axis labels
const colTitles = ['return', 'cloned policy return', 'return gap', 'KL-divergence', 'rate'];
const rowNames = ['CoopPong-PPO', 'PistonBall-PPOcont', 'Spread-PPOcont'];
colTitles.forEach((t, c) => {
  const d = document.createElement('div');
  d.className = 'title'; d.textContent = t;
  d.style.left = (colLeft[c] + plotW / 2) + 'px';
  page.appendChild(d);
  const s = document.createElement('div');
  s.className = 'xlab'; s.textContent = 'steps';
  s.style.left = (colLeft[c] + plotW / 2) + 'px';
  page.appendChild(s);
});
rowNames.forEach((t, r) => {
  const d = document.createElement('div');
  d.className = 'rowlab'; d.textContent = t;
  d.style.left = '27px';
  d.style.top = (rowTop[r] + plotH / 2) + 'px';
  page.appendChild(d);
});

function legend(left, top) {
  const box = document.createElement('div');
  box.className = 'legend';
  box.style.left = left + 'px'; box.style.top = top + 'px';
  legendNames.forEach((n, i) => {
    const row = document.createElement('div');
    const sw = document.createElement('span');
    sw.className = 'sw';
    const c = colors[legendKeys[i]];
    sw.style.background = n === 'FR'
      ? 'repeating-linear-gradient(to right, ' + c + ' 0 12px, transparent 12px 18px)'
      : c;
    row.appendChild(sw);
    row.appendChild(document.createTextNode(n));
    box.appendChild(row);
  });
  page.appendChild(box);
}
legend(1113, 62);
legend(1113, 523);
</script>
</body>
</html>
